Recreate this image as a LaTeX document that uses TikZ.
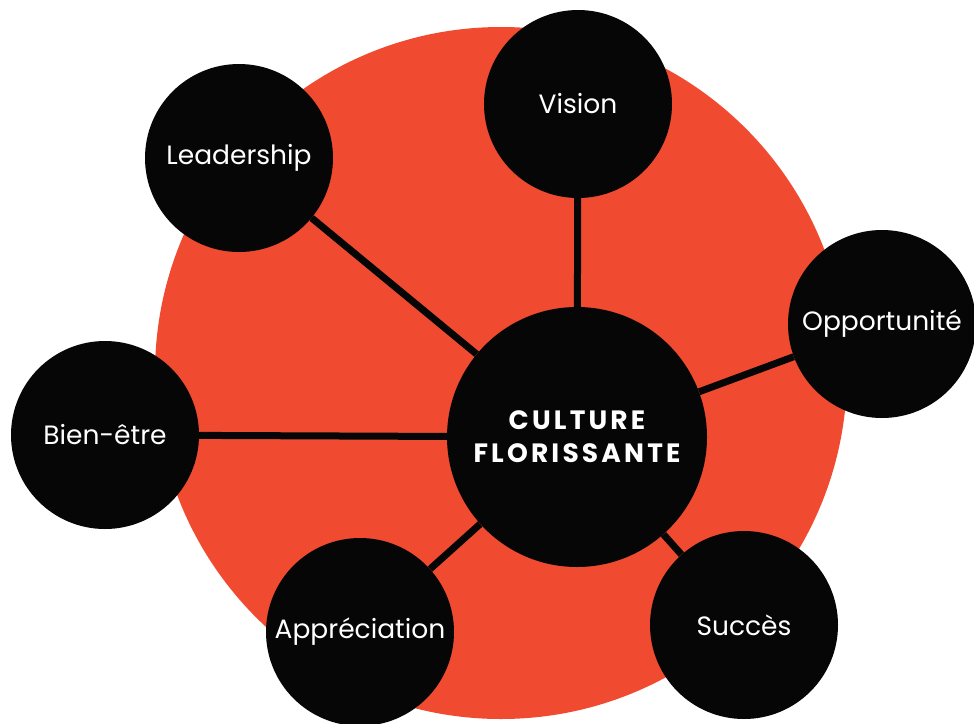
\documentclass[tikz,border=0pt]{standalone}
\usepackage{fontspec}
\setmainfont{Poppins}
\newfontfamily\hubfont[LetterSpace=12]{Poppins}
\definecolor{flame}{HTML}{F04B30}
\definecolor{ink}{HTML}{060606}

\tikzset{
    bubble/.style={circle, fill=ink, text=white, inner sep=0pt, minimum size=188pt, font=\fontsize{26.5}{30}\selectfont},
    hub/.style={bubble, minimum size=260pt, align=center, font=\hubfont\bfseries\fontsize{26.5}{33}\selectfont},
    spoke/.style={ink, line width=7pt}
}

\begin{document}
\begin{tikzpicture}[x=1pt, y=-1pt]
        \useasboundingbox (0,0) rectangle (974,723);
        \fill[flame](501,373)circle(346pt);

        \node[hub](culture) at (577,437) {CULTURE\\FLORISSANTE};

        \node[bubble](vision) at (578,104) {Vision};
        \node[bubble](leader) at (239,158) {Leadership};
        \node[bubble](oppor) at (882,324) {Opportunité};
        \node[bubble](bien) at (105,435) {Bien-être};
        \node[bubble](appre) at (360,632) {Appréciation};
        \node[bubble](succes) at (744,625) {Succès};

        \foreach \sat in {vision, leader, oppor, bien, appre, succes}
            \draw[spoke](culture)--(\sat);
    \end{tikzpicture}
\end{document}
